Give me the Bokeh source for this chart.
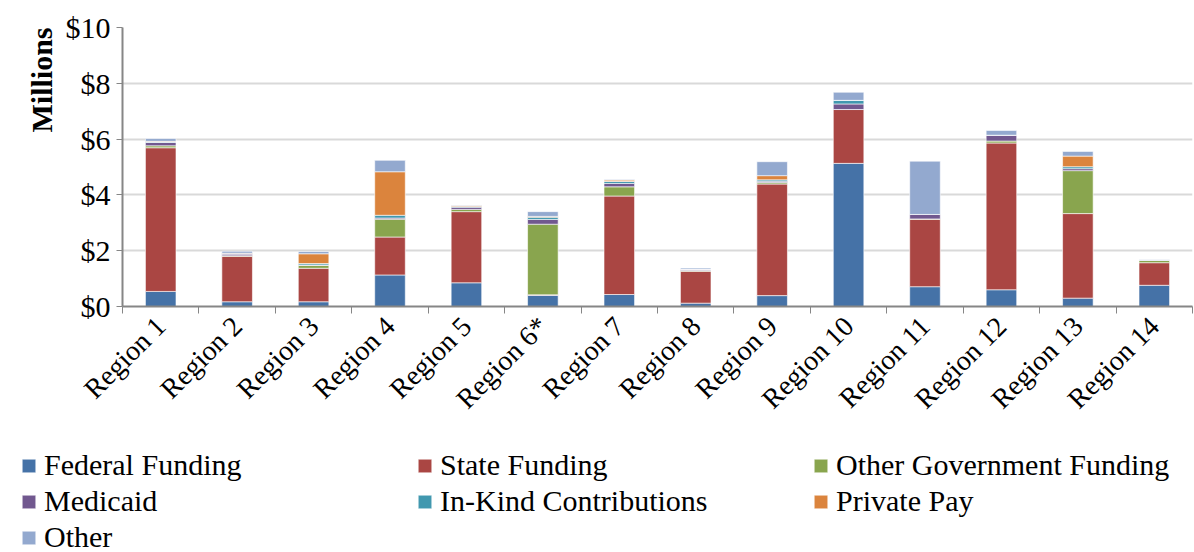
import math
from bokeh.plotting import figure
from bokeh.models import (Range1d, FactorRange, LinearAxis, CategoricalAxis, FixedTicker,
                          PrintfTickFormatter, Legend, LegendItem, CustomJSTickFormatter, Title)
from bokeh.embed import file_html
from bokeh.resources import INLINE

regions = ["Region 1", "Region 2", "Region 3", "Region 4", "Region 5", "Region 6*", "Region 7",
           "Region 8", "Region 9", "Region 10", "Region 11", "Region 12", "Region 13", "Region 14"]

federal   = [0.54, 0.17, 0.17, 1.13, 0.85, 0.40, 0.43, 0.12, 0.39, 5.13, 0.71, 0.60, 0.30, 0.76]
state     = [5.15, 1.63, 1.20, 1.36, 2.55, 0.02, 3.53, 1.14, 4.00, 1.93, 2.42, 5.26, 3.03, 0.81]
other_gov = [0.07, 0.02, 0.10, 0.64, 0.08, 2.53, 0.33, 0.03, 0.05, 0.00, 0.01, 0.07, 1.54, 0.08]
medicaid  = [0.12, 0.06, 0.02, 0.04, 0.08, 0.17, 0.12, 0.05, 0.05, 0.20, 0.16, 0.21, 0.07, 0.00]
in_kind   = [0.02, 0.01, 0.05, 0.10, 0.02, 0.08, 0.07, 0.00, 0.05, 0.13, 0.00, 0.00, 0.07, 0.00]
private   = [0.02, 0.02, 0.35, 1.56, 0.04, 0.03, 0.05, 0.00, 0.15, 0.00, 0.00, 0.00, 0.38, 0.00]
other     = [0.10, 0.07, 0.08, 0.41, 0.02, 0.17, 0.02, 0.04, 0.50, 0.29, 1.91, 0.17, 0.17, 0.03]

series_names = ["Federal Funding", "State Funding", "Other Government Funding", "Medicaid",
                "In-Kind Contributions", "Private Pay", "Other"]
series_keys = ["federal", "state", "other_gov", "medicaid", "in_kind", "private", "other"]
colors = ["#4572A7", "#AA4643", "#89A54E", "#71588F", "#4198AF", "#DB843D", "#93A9CF"]
y_ticks = [0, 2, 4, 6, 8, 10]
y_title = "Millions"

data = dict(region=regions, federal=federal, state=state, other_gov=other_gov,
            medicaid=medicaid, in_kind=in_kind, private=private, other=other)

FONT = "Liberation Serif"
AXIS_GRAY = "#868686"

# ---------------- main chart ----------------
p = figure(x_range=FactorRange(*regions, range_padding=0), y_range=Range1d(0, 10),
           width=1194, height=430, output_backend="svg", toolbar_location=None,
           x_axis_location=None, min_border_left=122, min_border_right=2,
           min_border_top=27, min_border_bottom=124)
p.outline_line_color = None
p.background_fill_color = "white"
p.border_fill_color = "white"

p.vbar_stack(series_keys, x="region", width=0.4, source=data, color=colors,
             line_color="white", line_alpha=0.6, line_width=1)

yax = p.yaxis[0]
yax.ticker = FixedTicker(ticks=y_ticks)
yax.formatter = PrintfTickFormatter(format="$%d")
yax.major_label_text_font = FONT
yax.major_label_text_font_size = "30px"
yax.major_label_text_color = "black"
yax.major_label_standoff = 6
yax.axis_line_color = AXIS_GRAY
yax.axis_line_width = 2
yax.major_tick_line_color = AXIS_GRAY
yax.major_tick_line_width = 1
yax.major_tick_out = 6
yax.major_tick_in = 0
yax.minor_tick_line_color = None

# y-axis title placed at the top of the axis, as in the reference
p.add_layout(Title(text=y_title, align="right", text_font=FONT, text_font_size="30px",
                   text_font_style="bold", text_color="black"), "left")

p.ygrid.grid_line_color = "#d9d9d9"
p.ygrid.grid_line_width = 2
p.ygrid.ticker = FixedTicker(ticks=y_ticks)
p.xgrid.grid_line_color = None

# ticks between categories (synthetic coordinates of the factor range)
edge_axis = LinearAxis(ticker=FixedTicker(ticks=list(range(len(regions) + 1))),
                       formatter=CustomJSTickFormatter(code="return ''"),
                       major_label_standoff=0,
                       axis_line_color=AXIS_GRAY, axis_line_width=2,
                       major_tick_line_color=AXIS_GRAY, major_tick_out=7, major_tick_in=0,
                       minor_tick_line_color=None)
p.add_layout(edge_axis, "below")

cat_axis = CategoricalAxis(axis_line_color=None, major_tick_line_color=None,
                           minor_tick_line_color=None,
                           major_label_orientation=math.pi / 4,
                           major_label_text_font=FONT, major_label_text_font_size="28px",
                           major_label_text_color="black", major_label_standoff=2)
p.add_layout(cat_axis, "below")

# ---------------- legend strip (separate root, so its frame is not aligned) ----------------
lg = figure(x_range=FactorRange(*regions), y_range=Range1d(20, 30),
            width=1194, height=122, output_backend="svg", toolbar_location=None,
            x_axis_location=None, y_axis_location=None, min_border=0)
lg.outline_line_color = None
lg.grid.grid_line_color = None
lg_renderers = lg.vbar_stack(series_keys, x="region", width=0.4, source=data, color=colors,
                             line_color="white", line_alpha=0.6, line_width=1)

legend = Legend(items=[LegendItem(label=n, renderers=[r]) for n, r in zip(series_names, lg_renderers)],
                location=(20, -2), orientation="horizontal", ncols=3,
                glyph_width=17, glyph_height=17, label_standoff=7, label_width=370,
                label_height=30, spacing=2, padding=0, margin=0,
                label_text_font=FONT, label_text_font_size="30px", label_text_color="black",
                border_line_color=None, background_fill_alpha=0)
lg.add_layout(legend, "center")

open("out.html", "w").write(file_html([p, lg], INLINE))
